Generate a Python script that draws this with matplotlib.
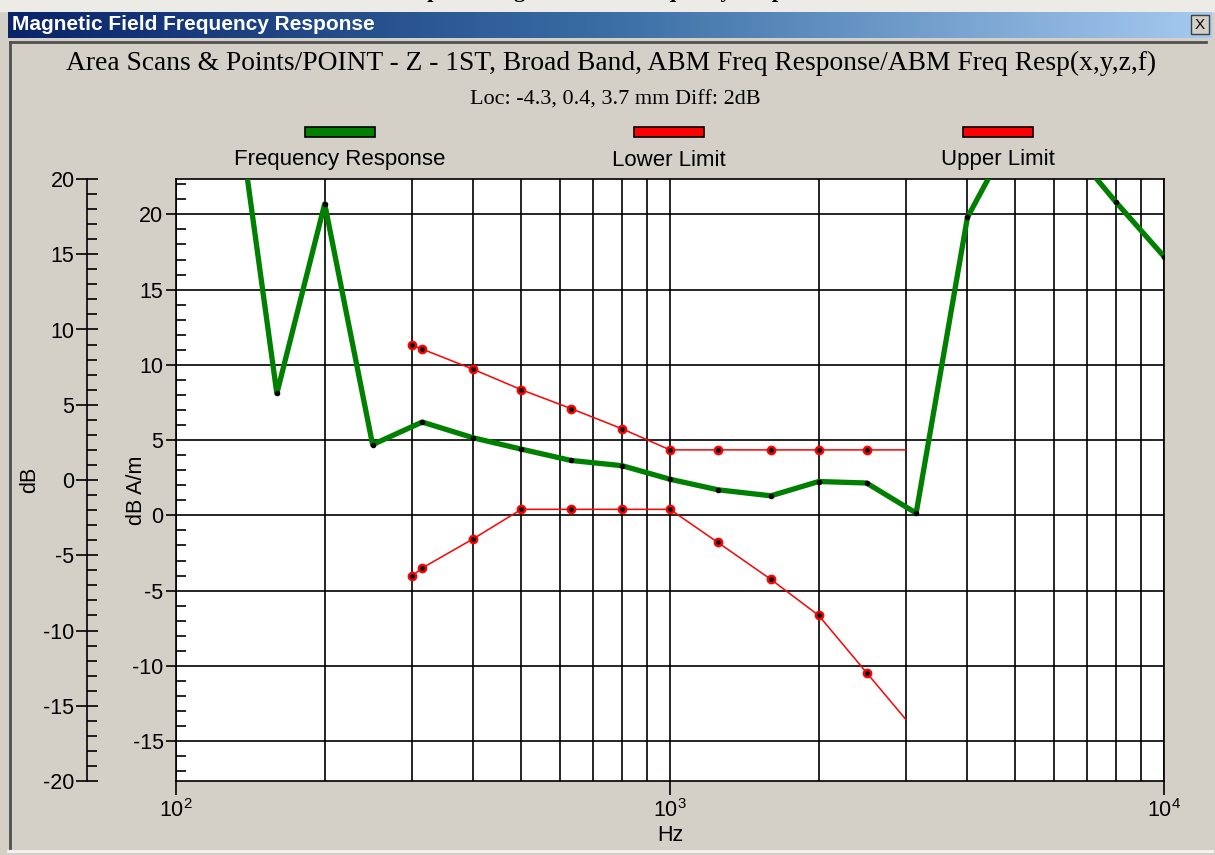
import numpy as np
import matplotlib
matplotlib.use("Agg")
import matplotlib.pyplot as plt
from matplotlib.patches import Rectangle
from matplotlib.colors import LinearSegmentedColormap
from matplotlib.ticker import FixedLocator, MultipleLocator, FuncFormatter, LogLocator, NullFormatter

plt.rcParams['font.family'] = ['Liberation Sans', 'DejaVu Sans']
plt.rcParams['mathtext.fontset'] = 'custom'
plt.rcParams['mathtext.rm'] = 'Liberation Sans'
plt.rcParams['mathtext.default'] = 'regular'
plt.rcParams['axes.unicode_minus'] = False

# data (Hz, dB A/m)
resp_hz = [125, 160, 200, 250, 315, 400, 500, 630, 800, 1000, 1250, 1600,
           2000, 2500, 3150, 4000, 5000, 6300, 8000, 10000]
resp_db = [33.8, 8.1, 20.7, 4.7, 6.2, 5.15, 4.4, 3.65, 3.3, 2.4, 1.7, 1.3,
           2.25, 2.15, 0.15, 19.8, 25.7, 24.9, 20.8, 17.2]

limit_hz = [300, 315, 400, 500, 630, 800, 1000, 1250, 1600, 2000, 2500, 3000]
lower_db = [-4.05, -3.5, -1.55, 0.4, 0.4, 0.4, 0.4, -1.8, -4.25, -6.65, -10.45, -13.55]
upper_db = [11.3, 11.05, 9.7, 8.35, 7.1, 5.75, 4.35, 4.35, 4.35, 4.35, 4.35, 4.35]

series_names = ['Frequency Response', 'Lower Limit', 'Upper Limit']
series_colors = ['#008000', '#ff0000', '#ff0000']

W, H = 1215, 855
panel = '#d4d0c8'
fig = plt.figure(figsize=(W / 100, H / 100), dpi=100, facecolor=panel)

# window chrome drawn in pixel coordinates
bg = fig.add_axes([0, 0, 1, 1])
bg.set_xlim(0, W)
bg.set_ylim(H, 0)
bg.axis('off')
bg.add_patch(Rectangle((0, 0), W, 11, color='#ecebe6', zorder=0))
grad = np.linspace(0, 1, 256)[None, :]
cm = LinearSegmentedColormap.from_list('bar', ['#0a246a', '#3a6ea5', '#a6caf0'])
bg.imshow(grad, cmap=cm, extent=[8, 1212, 38, 12], aspect='auto', zorder=1)
bg.text(12, 25, 'Magnetic Field Frequency Response', color='white', fontsize=15,
        fontweight='bold', va='center', ha='left', zorder=2)
bg.add_patch(Rectangle((1191, 15), 18, 19, facecolor=panel, edgecolor='#404040', lw=1, zorder=2))
bg.text(1200, 25, 'X', fontsize=11, va='center', ha='center', zorder=3)
bg.plot([10, 1206], [42, 42], color='#505050', lw=2, zorder=2)
bg.plot([10, 10], [42, 848], color='#505050', lw=2, zorder=2)
bg.plot([8, 1212], [851, 851], color='#f4f4f4', lw=2, zorder=2)
# page heading above the window, mostly cut off by the screenshot
fig.text(0.5, 1 - 2 / H, 'Graph of Magnetic Field Frequency Response', fontsize=16,
         fontweight='bold', family='Liberation Serif', ha='center', va='bottom')

# titles
fig.text(611 / W, 1 - 63 / H,
         'Area Scans & Points/POINT - Z - 1ST, Broad Band, ABM Freq Response/ABM Freq Resp(x,y,z,f)',
         family='Liberation Serif', fontsize=19.8, ha='center', va='center')
fig.text(615 / W, 1 - 100 / H, 'Loc: -4.3, 0.4, 3.7 mm Diff: 2dB',
         family='Liberation Serif', fontsize=16, ha='center', va='center')

# legend
for name, col, cx in zip(series_names, series_colors, [340, 669, 998]):
    bg.add_patch(Rectangle((cx - 35, 127), 70, 10, facecolor=col, edgecolor='black', lw=1.2))
    bg.text(cx, 160, name, fontsize=16, ha='center', va='center')

# main plot
left, right, top, bottom = 176, 1164, 179, 781
ax = fig.add_axes([left / W, 1 - bottom / H, (right - left) / W, (bottom - top) / H])
ax.set_facecolor('white')
ax.set_xscale('log')
ax.set_xlim(100, 10000)
ax.set_ylim(-17.65, 22.35)

ax.xaxis.set_major_locator(FixedLocator([100, 1000, 10000]))
ax.xaxis.set_minor_locator(LogLocator(base=10, subs=np.arange(2, 10)))
ax.xaxis.set_major_formatter(FuncFormatter(lambda v, p: '$10^{%d}$' % round(np.log10(v))))
ax.xaxis.set_minor_formatter(NullFormatter())
ax.yaxis.set_major_locator(FixedLocator(np.arange(-15, 21, 5)))
ax.yaxis.set_minor_locator(MultipleLocator(1))

ax.grid(True, which='both', axis='x', color='black', lw=1.2)
ax.grid(True, which='major', axis='y', color='black', lw=1.2)
ax.tick_params(axis='x', which='major', direction='out', length=10, width=1.2,
               labelsize=15.5, pad=3)
ax.tick_params(axis='x', which='minor', length=0)
ax.tick_params(axis='y', which='major', direction='out', length=7, width=1.2,
               labelsize=15.5, pad=2)
ax.tick_params(axis='y', which='minor', direction='in', length=7, width=1.2)
for s in ax.spines.values():
    s.set_color('black')
    s.set_linewidth(1.2)

ax.plot(resp_hz, resp_db, color=series_colors[0], lw=3.8, zorder=4,
        marker='o', ms=3, mfc='black', mec='black')
marks = list(range(len(limit_hz) - 1))
for vals, col in [(lower_db, series_colors[1]), (upper_db, series_colors[2])]:
    ax.plot(limit_hz, vals, color=col, lw=1.1, zorder=3, marker='o', ms=6,
            mfc=col, mec=col, markevery=marks)
    ax.plot(np.array(limit_hz)[marks], np.array(vals)[marks], ls='none', marker='o',
            ms=2.5, mfc='black', mec='black', zorder=5)

ax.set_xlabel('Hz', fontsize=15.5, labelpad=2)
ax.set_ylabel('dB A/m', fontsize=15.5)
ax.yaxis.set_label_coords(-(left - 147) / (right - left), (bottom - 490) / (bottom - top))

# secondary dB scale on the far left
ax2 = fig.add_axes([87 / W, 1 - bottom / H, 0.0001, (bottom - top) / H])
ax2.set_facecolor('none')
for k in ['top', 'right', 'bottom']:
    ax2.spines[k].set_visible(False)
ax2.spines['left'].set_linewidth(1.2)
ax2.set_ylim(-20, 20)
ax2.set_xticks([])
ax2.yaxis.set_major_locator(MultipleLocator(5))
ax2.yaxis.set_minor_locator(MultipleLocator(1))
ax2.tick_params(axis='y', which='major', direction='inout', length=16, width=1.2,
                labelsize=15.5, pad=1)
ax2.tick_params(axis='y', which='minor', direction='in', length=7, width=1.2)
fig.text(30 / W, 1 - 480 / H, 'dB', fontsize=15.5, rotation=90, ha='center', va='center')

fig.savefig('out.png', dpi=100, facecolor=panel)
